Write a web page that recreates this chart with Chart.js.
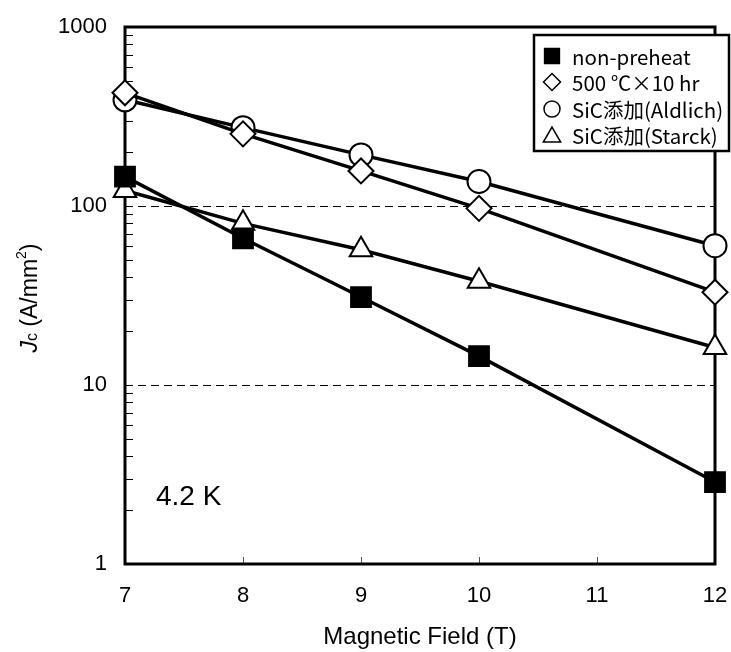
<!DOCTYPE html>
<html>
<head>
<meta charset="utf-8">
<script src="https://cdn.jsdelivr.net/npm/chart.js@4.4.1/dist/chart.umd.min.js"></script>
<style>
  html, body { margin: 0; padding: 0; background: #fff; }
  #wrap { width: 731px; height: 652px; }
</style>
</head>
<body>
<div id="wrap"><canvas id="jcChart" width="731" height="652"></canvas></div>
<script>
// Jc vs magnetic field at 4.2 K
const fieldT = [7, 8, 9, 10, 12];
const jcNonPreheat = [146, 66, 31, 14.5, 2.87];
const jc500C = [429, 253, 157, 97, 33];
const jcAldlich = [392, 274, 193, 137, 60];
const jcStarck = [122, 80, 57, 38, 16.2];

const seriesLabels = ["non-preheat", "500 ℃×10 hr", "SiC添加(Aldlich)", "SiC添加(Starck)"];
const xTickValues = [7, 8, 9, 10, 11, 12];
const yLabelValues = [1, 10, 100, 1000];
const dashedGridValues = [10, 100];
const tempNote = "4.2 K";

const FONT = "'Liberation Sans', Arial, sans-serif";
const LEGEND_FONT = "'Noto Sans CJK JP', sans-serif";

function makeSeries(label, values, style, radius, fill) {
  return {
    label: label,
    data: fieldT.map((x, i) => ({ x: x, y: values[i] })),
    borderColor: "#000",
    borderWidth: 3.5,
    pointStyle: style,
    pointRadius: radius,
    pointBackgroundColor: fill,
    pointBorderColor: "#000",
    pointBorderWidth: 2,
    tension: 0,
    clip: false
  };
}

const datasets = [
  makeSeries(seriesLabels[0], jcNonPreheat, "rect", 14, "#000"),
  makeSeries(seriesLabels[1], jc500C, "rectRot", 12.5, "#fff"),
  makeSeries(seriesLabels[2], jcAldlich, "circle", 11.5, "#fff"),
  makeSeries(seriesLabels[3], jcStarck, "triangle", 13, "#fff")
];

// legend marker sizes (radius passed to drawPoint)
const legendRadius = { rect: 10.5, rectRot: 8.5, circle: 8, triangle: 10 };

// frame, inward ticks, dashed lines at 10 and 100
const frameAndTicks = {
  id: "frameAndTicks",
  beforeDatasetsDraw(chart) {
    const { ctx, chartArea: a, scales: { x, y } } = chart;
    ctx.save();
    ctx.strokeStyle = "#000";
    ctx.lineWidth = 1;
    ctx.setLineDash([8, 5]);
    dashedGridValues.forEach(v => {
      const py = Math.round(y.getPixelForValue(v)) + 0.5;
      ctx.beginPath();
      ctx.moveTo(a.left, py);
      ctx.lineTo(a.right, py);
      ctx.stroke();
    });
    ctx.setLineDash([]);

    ctx.lineWidth = 1;
    y.ticks.forEach(t => {
      if (t.value <= y.min || t.value >= y.max) return;
      const py = Math.round(y.getPixelForValue(t.value)) + 0.5;
      ctx.beginPath();
      ctx.moveTo(a.left, py);
      ctx.lineTo(a.left + 8, py);
      ctx.stroke();
    });

    ctx.strokeStyle = "#555";
    xTickValues.forEach(v => {
      if (v <= x.min || v >= x.max) return;
      const px = Math.round(x.getPixelForValue(v)) + 0.5;
      ctx.beginPath();
      ctx.moveTo(px, a.bottom);
      ctx.lineTo(px, a.bottom - 7);
      ctx.stroke();
    });

    ctx.strokeStyle = "#000";
    ctx.lineWidth = 3;
    ctx.strokeRect(a.left, a.top, a.right - a.left, a.bottom - a.top);
    ctx.restore();
  },
  afterDatasetsDraw(chart) {
    const { ctx } = chart;
    ctx.save();

    // legend box, sticking out past the right edge of the frame
    const boxL = 534, boxT = 35, boxR = 729, boxB = 151;
    ctx.fillStyle = "#fff";
    ctx.fillRect(boxL, boxT, boxR - boxL, boxB - boxT);
    ctx.strokeStyle = "#000";
    ctx.lineWidth = 2.5;
    ctx.strokeRect(boxL, boxT, boxR - boxL, boxB - boxT);

    const rowY = [56, 82, 109, 135];
    ctx.font = "20.5px " + LEGEND_FONT;
    ctx.textBaseline = "middle";
    ctx.textAlign = "left";
    chart.data.datasets.forEach((ds, i) => {
      const cy = rowY[i];
      ctx.fillStyle = ds.pointBackgroundColor;
      ctx.strokeStyle = "#000";
      ctx.lineWidth = 1.5;
      const r = legendRadius[ds.pointStyle];
      const my = ds.pointStyle === "triangle" ? cy + 2 : cy;
      Chart.helpers.drawPoint(ctx, { pointStyle: ds.pointStyle, radius: r, borderWidth: 1.5, rotation: 0 }, 552, my);
      ctx.fillStyle = "#000";
      ctx.fillText(ds.label, 572, cy + 1);
    });

    // temperature note
    ctx.font = "28px " + FONT;
    ctx.fillStyle = "#000";
    ctx.textAlign = "left";
    ctx.textBaseline = "middle";
    ctx.fillText(tempNote, 156, 497);

    // y axis title: Jc (A/mm2)
    ctx.translate(30, 298);
    ctx.rotate(-Math.PI / 2);
    const parts = [
      { t: "J", f: "italic 23px " + FONT, dy: 0 },
      { t: "c", f: "16px " + FONT, dy: 2 },
      { t: " (A/mm", f: "23px " + FONT, dy: 0 },
      { t: "2", f: "14px " + FONT, dy: -9 },
      { t: ")", f: "23px " + FONT, dy: 0 }
    ];
    let total = 0;
    parts.forEach(p => { ctx.font = p.f; p.w = ctx.measureText(p.t).width; total += p.w; });
    let cx = -total / 2;
    ctx.textBaseline = "middle";
    parts.forEach(p => {
      ctx.font = p.f;
      ctx.fillText(p.t, cx, p.dy + 1);
      cx += p.w;
    });
    ctx.restore();
  }
};

new Chart(document.getElementById("jcChart"), {
  type: "line",
  data: { datasets: datasets },
  options: {
    responsive: false,
    animation: false,
    devicePixelRatio: 1,
    layout: { padding: { top: 27, right: 13, left: 0, bottom: 0 } },
    plugins: {
      legend: { display: false },
      tooltip: { enabled: false }
    },
    scales: {
      x: {
        type: "linear",
        min: 7,
        max: 12,
        afterBuildTicks: scale => { scale.ticks = xTickValues.map(v => ({ value: v })); },
        afterFit: scale => {
          scale.height = 88;
          scale.paddingLeft = 0;
          scale.paddingRight = 0;
        },
        ticks: { color: "#000", font: { family: FONT, size: 22 }, padding: 11, maxRotation: 0 },
        grid: { display: false },
        border: { display: false },
        title: {
          display: true,
          text: "Magnetic Field (T)",
          color: "#000",
          font: { family: FONT, size: 24 },
          padding: { top: 0, bottom: 0 }
        }
      },
      y: {
        type: "logarithmic",
        min: 1,
        max: 1000,
        afterBuildTicks: scale => {
          const t = [];
          for (let e = 0; e < 3; e++) {
            for (let m = 1; m < 10; m++) t.push({ value: m * Math.pow(10, e) });
          }
          t.push({ value: 1000 });
          scale.ticks = t;
        },
        afterFit: scale => {
          scale.width = 125;
          scale.paddingTop = 0;
          scale.paddingBottom = 0;
        },
        ticks: {
          autoSkip: false,
          color: "#000",
          font: { family: FONT, size: 22 },
          padding: 10,
          callback: v => (yLabelValues.includes(v) ? String(v) : "")
        },
        grid: { display: false },
        border: { display: false }
      }
    }
  },
  plugins: [frameAndTicks]
});
</script>
</body>
</html>
